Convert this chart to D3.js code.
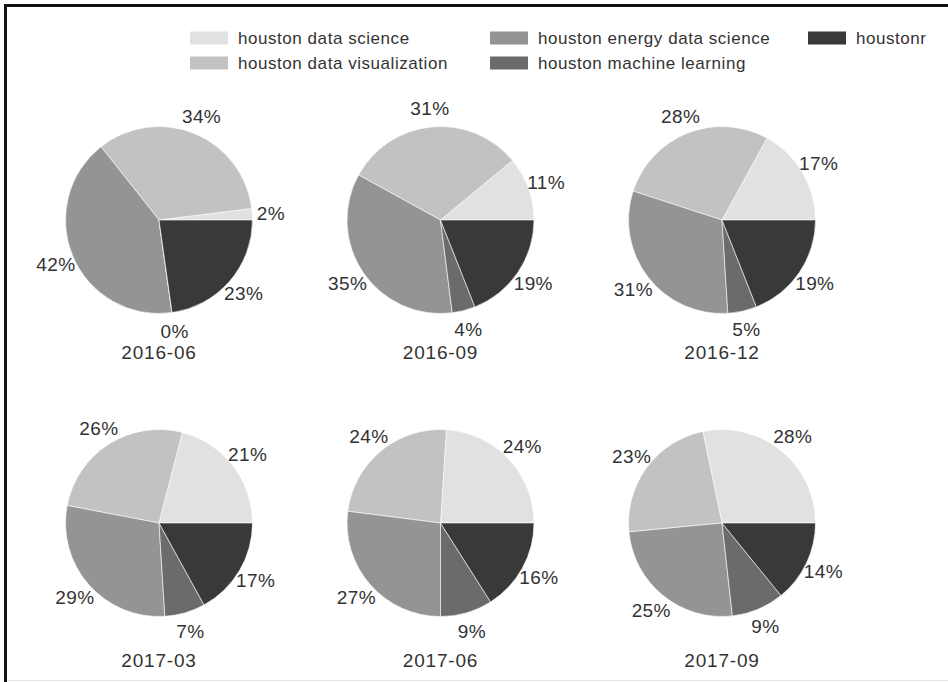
<!DOCTYPE html>
<html>
<head>
<meta charset="utf-8">
<script src="https://cdn.jsdelivr.net/npm/d3@7"></script>
<style>
  body { margin: 0; background: #fff; }
  svg { display: block; }
  text { font-family: "Liberation Sans", Arial, Helvetica, sans-serif; fill: #333; }
</style>
</head>
<body>
<script>
// groups, in legend / slice order
var groups = ['houston data science', 'houston data visualization', 'houston energy data science', 'houston machine learning', 'houstonr'];
var shades = ['#e1e1e1', '#c2c2c2', '#949494', '#6b6b6b', '#393939'];

var periods = ['2016-06', '2016-09', '2016-12', '2017-03', '2017-06', '2017-09'];

// share (%) of each group per period
var dataScience   = [2, 11, 17, 21, 24, 28];
var dataViz       = [34, 31, 28, 26, 24, 23];
var energyDS      = [42, 35, 31, 29, 27, 25];
var machineLearn  = [0, 4, 5, 7, 9, 9];
var houstonr      = [23, 19, 19, 17, 16, 14];

var series = [dataScience, dataViz, energyDS, machineLearn, houstonr];

var W = 948, H = 682;
var radius = 93.5;
var labelDist = 1.2;

var svg = d3.select('body').append('svg')
  .attr('width', W)
  .attr('height', H);

svg.append('rect').attr('width', W).attr('height', H).attr('fill', 'white');

// frame (screenshot border)
svg.append('line').attr('x1', 4).attr('x2', W).attr('y1', 5.5).attr('y2', 5.5)
  .attr('stroke', '#111').attr('stroke-width', 3);
svg.append('line').attr('x1', 5.5).attr('x2', 5.5).attr('y1', 4).attr('y2', H)
  .attr('stroke', '#111').attr('stroke-width', 3);
svg.append('line').attr('x1', 7).attr('x2', W).attr('y1', 680.5).attr('y2', 680.5)
  .attr('stroke', '#e4e4e4').attr('stroke-width', 1);

var color = d3.scaleOrdinal().domain(groups).range(shades);

// grid placement of the small pies
var colX = d3.scalePoint().domain([0, 1, 2]).range([159, 722]);
var rowY = d3.scalePoint().domain([0, 1]).range([220, 523]);
var titleY = [352, 660];

// matplotlib style: start at 3 o'clock, go counter-clockwise
var pie = d3.pie()
  .sort(null)
  .value(function(d) { return d.value; })
  .startAngle(Math.PI / 2)
  .endAngle(Math.PI / 2 - 2 * Math.PI);

var arc = d3.arc().innerRadius(0).outerRadius(radius);
var labelArc = d3.arc().innerRadius(radius * labelDist).outerRadius(radius * labelDist);

periods.forEach(function(p, i) {
  var col = i % 3, row = Math.floor(i / 3);
  var rows = groups.map(function(g, k) {
    return {name: g, value: series[k][i]};
  });

  var g = svg.append('g')
    .attr('transform', 'translate(' + colX(col) + ',' + rowY(row) + ')');

  var slices = pie(rows);

  g.selectAll('path')
    .data(slices)
    .enter().append('path')
    .attr('d', arc)
    .attr('fill', function(d) { return color(d.data.name); })
    .attr('stroke', '#ffffff')
    .attr('stroke-width', 0.6)
    .attr('stroke-linejoin', 'round');

  g.selectAll('text.pct')
    .data(slices)
    .enter().append('text')
    .attr('class', 'pct')
    .attr('transform', function(d) { return 'translate(' + labelArc.centroid(d) + ')'; })
    .attr('text-anchor', 'middle')
    .attr('dy', '0.36em')
    .attr('font-size', 19)
    .attr('letter-spacing', 0.4)
    .text(function(d) { return d.data.value + '%'; });

  svg.append('text')
    .attr('x', colX(col))
    .attr('y', titleY[row])
    .attr('text-anchor', 'middle')
    .attr('dy', '0.36em')
    .attr('font-size', 19)
    .attr('letter-spacing', 0.8)
    .text(p);
});

// legend, 3 columns filled column-wise
var legendCols = [190, 490, 808];
var legendRows = [38, 63];

var legend = svg.selectAll('g.legend')
  .data(groups)
  .enter().append('g')
  .attr('class', 'legend')
  .attr('transform', function(d, i) {
    return 'translate(' + legendCols[Math.floor(i / 2)] + ',' + legendRows[i % 2] + ')';
  });

legend.append('rect')
  .attr('x', 0)
  .attr('y', -6.5)
  .attr('width', 38)
  .attr('height', 13)
  .attr('fill', function(d) { return color(d); });

legend.append('text')
  .attr('x', 48)
  .attr('dy', '0.36em')
  .attr('font-size', 17)
  .attr('letter-spacing', 0.55)
  .text(function(d) { return d; });
</script>
</body>
</html>
